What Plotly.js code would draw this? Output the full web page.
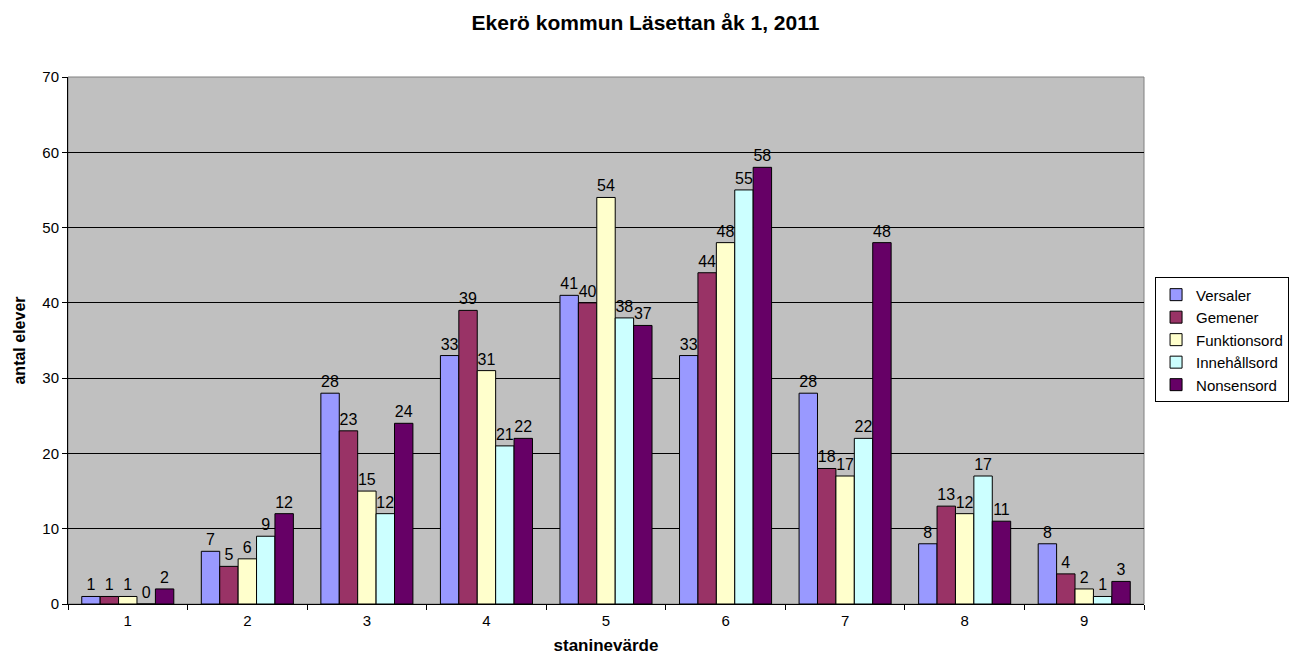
<!DOCTYPE html>
<html>
<head>
<meta charset="utf-8">
<script src="https://cdn.plot.ly/plotly-3.0.1.min.js"></script>
<style>html,body{margin:0;padding:0;background:#fff;}#chart{width:1291px;height:660px;}</style>
</head>
<body>
<div id="chart"></div>
<script>
const categories = ["1","2","3","4","5","6","7","8","9"];
const versaler = [1,7,28,33,41,33,28,8,8];
const gemener = [1,5,23,39,40,44,18,13,4];
const funktionsord = [1,6,15,31,54,48,17,12,2];
const innehallsord = [0,9,12,21,38,55,22,17,1];
const nonsensord = [2,12,24,22,37,58,48,11,3];
const seriesNames = ["Versaler","Gemener","Funktionsord","Innehållsord","Nonsensord"];
const seriesValues = [versaler, gemener, funktionsord, innehallsord, nonsensord];
const colors = ["#9999FF","#993366","#FFFFCC","#CCFFFF","#660066"];

const FONT = "Arial, Liberation Sans, sans-serif";

const traces = seriesValues.map((vals, i) => ({
  type: "bar",
  name: seriesNames[i],
  x: categories,
  y: vals,
  text: vals.map(String),
  textposition: "outside",
  cliponaxis: false,
  textfont: {family: FONT, size: 16, color: "#000"},
  marker: {color: colors[i], line: {color: "#000", width: 1}},
  hoverinfo: "x+y+name"
}));

const layout = {
  width: 1291, height: 660,
  margin: {l: 68, r: 147, t: 77, b: 56},
  paper_bgcolor: "#fff",
  plot_bgcolor: "#C0C0C0",
  barmode: "group",
  bargap: 0.23,
  bargroupgap: 0,
  font: {family: FONT, color: "#000"},
  title: {text: "<b>Ekerö kommun Läsettan åk 1, 2011</b>", font: {size: 21, color: "#000"}, x: 0.5, xanchor: "center", y: 0.966, yanchor: "middle"},
  xaxis: {
    type: "category",
    automargin: false,
    title: {text: "<b>staninevärde</b>", font: {size: 17}, standoff: 11},
    tickfont: {size: 15},
    ticks: "outside", ticklen: 5, tickcolor: "#000",
    ticklabelstandoff: 3,
    tickson: "boundaries",
    showline: true, linecolor: "#000", linewidth: 1,
    showgrid: false, zeroline: false
  },
  yaxis: {
    range: [0, 70], dtick: 10,
    automargin: false,
    title: {text: "<b>antal elever</b>", font: {size: 16}, standoff: 12},
    tickfont: {size: 15},
    ticks: "outside", ticklen: 5, tickcolor: "#000",
    showline: true, linecolor: "#000", linewidth: 1,
    showgrid: true, gridcolor: "#000", gridwidth: 1,
    zeroline: false
  },
  shapes: [{type: "rect", xref: "paper", yref: "paper", x0: 0, x1: 1, y0: 0, y1: 1, line: {color: "#808080", width: 1}, layer: "below"}],
  legend: {
    xref: "container", yref: "container",
    x: 0.8947, xanchor: "left", y: 0.485, yanchor: "middle",
    bgcolor: "#fff", bordercolor: "#000", borderwidth: 1,
    font: {size: 15}, tracegroupgap: 0, itemwidth: 30
  },
  showlegend: true
};

Plotly.newPlot("chart", traces, layout, {displayModeBar: false, staticPlot: true});
</script>
</body>
</html>
